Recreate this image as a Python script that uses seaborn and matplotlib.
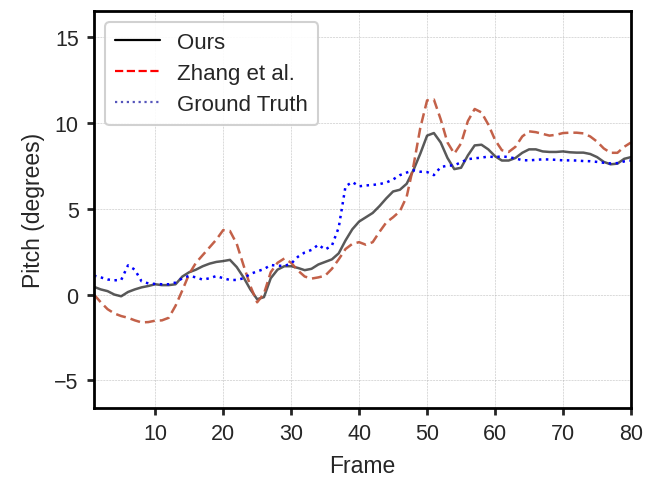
import numpy as np
import pandas as pd
import matplotlib
matplotlib.use("Agg")
import matplotlib.pyplot as plt
import seaborn as sns
from matplotlib.lines import Line2D

# Pitch per frame
frames = list(range(1, 81))

ours = [0.45, 0.3, 0.2, 0.0, -0.1, 0.15, 0.3, 0.42, 0.5, 0.6,
        0.55, 0.55, 0.6, 1.05, 1.3, 1.45, 1.65, 1.8, 1.9, 1.95,
        2.02, 1.6, 1.0, 0.3, -0.27, -0.15, 0.95, 1.45, 1.65, 1.65,
        1.55, 1.42, 1.5, 1.75, 1.9, 2.05, 2.4, 3.15, 3.8, 4.25,
        4.5, 4.75, 5.15, 5.6, 6.0, 6.1, 6.45, 7.25, 8.2, 9.25,
        9.4, 8.85, 7.95, 7.3, 7.38, 8.1, 8.68, 8.72, 8.45, 8.05,
        7.8, 7.8, 7.95, 8.25, 8.45, 8.45, 8.33, 8.3, 8.3, 8.33,
        8.28, 8.26, 8.26, 8.18, 8.0, 7.72, 7.58, 7.62, 7.9, 8.0]

zhang = [0.0, -0.45, -0.85, -1.1, -1.25, -1.35, -1.5, -1.62, -1.6, -1.52,
         -1.5, -1.35, -0.65, 0.25, 1.2, 1.85, 2.3, 2.75, 3.2, 3.75,
         3.7, 2.95, 1.7, 0.5, -0.45, 0.05, 1.3, 1.85, 2.1, 1.85,
         1.4, 1.05, 0.93, 1.0, 1.1, 1.5, 2.05, 2.65, 2.95, 3.05,
         2.9, 3.05, 3.65, 4.2, 4.5, 4.85, 5.7, 7.5, 9.7, 11.3,
         11.35, 10.2, 8.85, 8.2, 8.8, 10.1, 10.8, 10.6, 9.9, 9.0,
         8.4, 8.3, 8.6, 9.2, 9.5, 9.45, 9.35, 9.25, 9.3, 9.4,
         9.42, 9.42, 9.38, 9.2, 8.9, 8.5, 8.25, 8.25, 8.6, 8.85]

ground_truth = [1.1, 1.0, 0.88, 0.83, 0.85, 1.7, 1.45, 0.77, 0.65, 0.62,
                0.6, 0.6, 0.7, 0.95, 1.09, 1.0, 0.87, 0.95, 1.08, 0.95,
                0.85, 0.85, 0.95, 1.2, 1.35, 1.48, 1.72, 1.68, 1.67, 1.8,
                2.2, 2.45, 2.6, 2.9, 2.62, 2.85, 3.9, 6.3, 6.55, 6.3,
                6.35, 6.38, 6.43, 6.52, 6.7, 6.95, 7.1, 7.23, 7.15, 7.13,
                6.95, 7.42, 7.5, 7.52, 7.7, 7.88, 7.93, 7.97, 8.03, 8.0,
                8.04, 8.0, 7.92, 7.82, 7.81, 7.84, 7.87, 7.86, 7.84, 7.81,
                7.81, 7.8, 7.77, 7.76, 7.72, 7.67, 7.63, 7.65, 7.75, 7.8]

labels = ["Ours", "Zhang et al.", "Ground Truth"]

sns.set_style("ticks")
plt.rcParams["font.family"] = ["Liberation Sans", "DejaVu Sans"]

df = pd.DataFrame({"Frame": frames, "Ours": ours,
                   "Zhang": zhang, "GT": ground_truth})

fig = plt.figure(figsize=(6.55, 4.81), dpi=100)
ax = fig.add_axes([0.1435, 0.1497, 0.8199, 0.8253])

sns.lineplot(data=df, x="Frame", y="Ours", ax=ax, color="black",
             alpha=0.65, linewidth=1.8)
sns.lineplot(data=df, x="Frame", y="Zhang", ax=ax, color="#c0583f",
             alpha=0.95, linewidth=1.8, linestyle=(0, (4, 2)))
sns.lineplot(data=df, x="Frame", y="GT", ax=ax, color="blue",
             linewidth=1.8, linestyle=(0, (1, 1.8)))

ax.set_xlim(1, 80)
ax.set_ylim(-6.6, 16.5)
ax.set_xticks([10, 20, 30, 40, 50, 60, 70, 80])
ax.set_yticks([-5, 0, 5, 10, 15])
ax.set_xlabel("Frame", fontsize=16.5, labelpad=7)
ax.set_ylabel("Pitch (degrees)", fontsize=16.5, labelpad=7)
ax.tick_params(labelsize=15.5, width=2, length=5, direction="out", pad=6)
ax.grid(True, linestyle="--", linewidth=0.4, color="#b0b0b0", alpha=0.8)
for sp in ax.spines.values():
    sp.set_linewidth(2)
    sp.set_color("black")

handles = [Line2D([], [], color="black", linewidth=1.6),
           Line2D([], [], color="red", linewidth=1.6, linestyle="--"),
           Line2D([], [], color="#5555bb", linewidth=1.6, linestyle=":")]
leg = ax.legend(handles, labels, loc="upper left", fontsize=16, frameon=True,
                fancybox=True, edgecolor="#cccccc", framealpha=0.9,
                borderpad=0.45, handlelength=2.0, handletextpad=0.8,
                labelspacing=0.45)
leg.get_frame().set_linewidth(1.5)

fig.savefig("out.png", dpi=100)
